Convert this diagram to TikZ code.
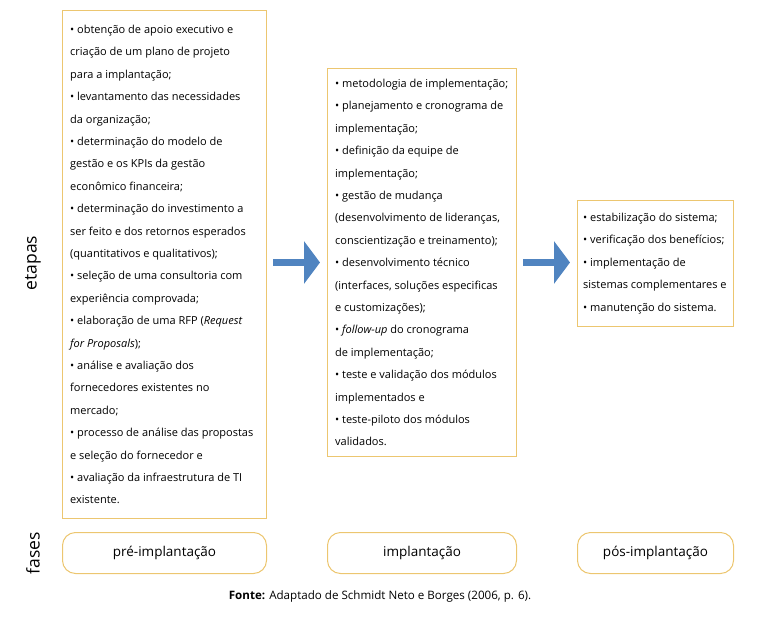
\documentclass[tikz,border=0pt]{standalone}
\usepackage{fontspec}
\setmainfont{Open Sans}
\usetikzlibrary{arrows.meta}
\definecolor{boxgold}{RGB}{236,198,112}
\definecolor{arrowblue}{RGB}{80,132,192}
\tikzset{
  etapa/.style={draw=boxgold, line width=1pt, anchor=north west},
  lista/.style={anchor=west, align=left, inner sep=0pt, font=\fontsize{11}{22.4}\selectfont},
  fase/.style={draw=boxgold, line width=1pt, rounded corners=13pt, anchor=north west,
    minimum height=41pt, font=\fontsize{13.5}{15}\selectfont},
  seta/.style={arrowblue, line width=7pt, -{Triangle[length=16pt,width=42pt]}},
  rotulo/.style={rotate=90, font=\fontsize{17.5}{19}\selectfont}
}
\begin{document}
\begin{tikzpicture}[x=1pt,y=-1pt]
      \useasboundingbox (0,0) rectangle (766,618);
      % etapas
      \node[etapa, minimum width=204pt, minimum height=508pt] (pre) at (62,10) {};
      \node[etapa, minimum width=189pt, minimum height=388pt] (impl) at (327,68) {};
      \node[etapa, minimum width=156pt, minimum height=126pt] (pos) at (577,200) {};
      \node[lista, xshift=8pt] (pretxt) at (pre.west) {%
        • obtenção de apoio executivo e\\
        criação de um plano de projeto\\
        para a implantação;\\
        • levantamento das necessidades\\
        da organização;\\
        • determinação do modelo de\\
        gestão e os KPIs da gestão\\
        econômico financeira;\\
        • determinação do investimento a\\
        ser feito e dos retornos esperados\\
        (quantitativos e qualitativos);\\
        • seleção de uma consultoria com\\
        experiência comprovada;\\
        • elaboração de uma RFP (\emph{Request}\\
        \emph{for Proposals});\\
        • análise e avaliação dos\\
        fornecedores existentes no\\
        mercado;\\
        • processo de análise das propostas\\
        e seleção do fornecedor e\\
        • avaliação da infraestrutura de TI\\
        existente.};
      \node[lista, xshift=8pt] (impltxt) at (impl.west) {%
        • metodologia de implementação;\\
        • planejamento e cronograma de\\
        implementação;\\
        • definição da equipe de\\
        implementação;\\
        • gestão de mudança\\
        (desenvolvimento de lideranças,\\
        conscientização e treinamento);\\
        • desenvolvimento técnico\\
        (interfaces, soluções especificas\\
        e customizações);\\
        • \emph{follow-up} do cronograma\\
        de implementação;\\
        • teste e validação dos módulos\\
        implementados e\\
        • teste-piloto dos módulos\\
        validados.};
      \node[lista, xshift=6pt] (postxt) at (pos.west) {%
        • estabilização do sistema;\\
        • verificação dos benefícios;\\
        • implementação de\\
        sistemas complementares e\\
        • manutenção do sistema.};
      \draw[seta, shorten <=6pt, shorten >=7pt] (pre.east |- impl.west) -- (impl.west);
      \draw[seta, shorten <=6pt, shorten >=7pt] (impl.east) -- (impl.east -| pos.west);
      % fases
      \node[fase, minimum width=204pt] (fpre) at (62,532) {pré-implantação};
      \node[fase, minimum width=189pt] (fimpl) at (327,532) {implantação};
      \node[fase, minimum width=156pt] (fpos) at (577,532) {pós-implantação};
      \node[rotulo] (etapas) at (33,263) {etapas};
      \node[rotulo] (fases) at (33,553) {fases};
      \node[font=\fontsize{11.6}{13}\selectfont] (fonte) at (380,596)
        {\textbf{Fonte:} Adaptado de Schmidt Neto e Borges (2006, p. 6).};
    \end{tikzpicture}
\end{document}
